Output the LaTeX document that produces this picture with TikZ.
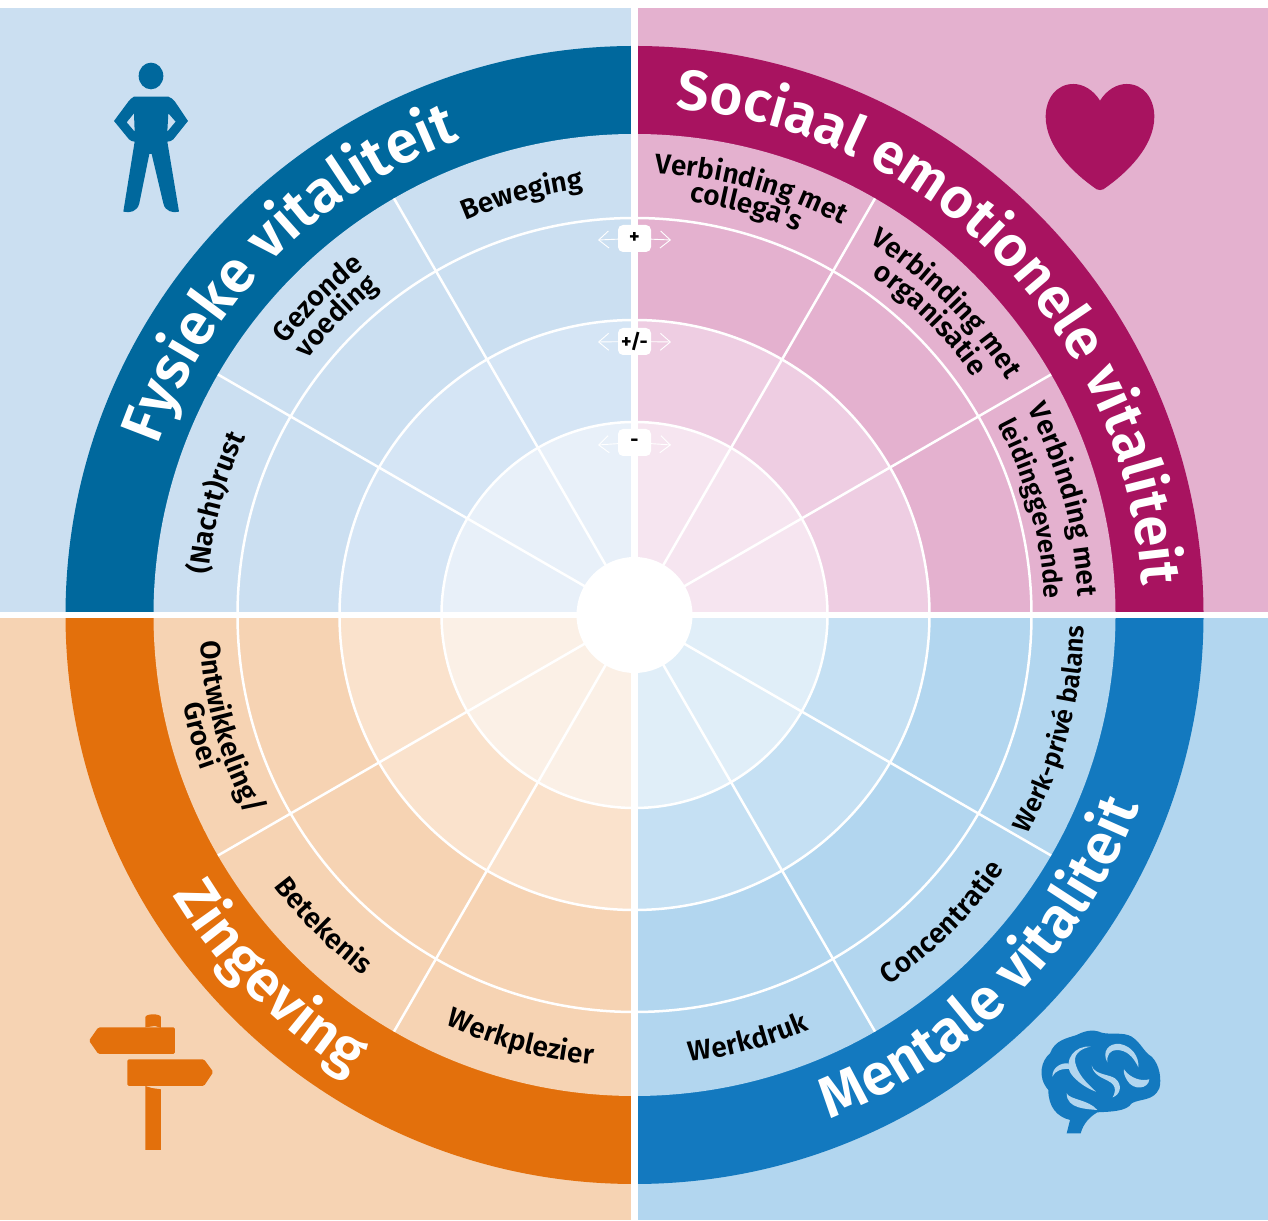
\documentclass[tikz,border=0pt]{standalone}
\usepackage{fontspec}
\setmainfont{Fira Sans}
\newfontfamily\labfam{Fira Sans}[UprightFont=* SemiBold]
\usetikzlibrary{decorations.text,arrows.meta}
\definecolor{bluebg}{HTML}{CBDFF1}\definecolor{bluemid}{HTML}{D5E5F5}\definecolor{blueinn}{HTML}{E8F0F9}\definecolor{blueband}{HTML}{00689D}
\definecolor{pinkbg}{HTML}{E4B1CF}\definecolor{pinkmid}{HTML}{EECDE2}\definecolor{pinkinn}{HTML}{F6E5F0}\definecolor{pinkband}{HTML}{A81360}
\definecolor{orabg}{HTML}{F6D3B3}\definecolor{oramid}{HTML}{FAE2CC}\definecolor{orainn}{HTML}{FBF0E6}\definecolor{oraband}{HTML}{E3700C}
\definecolor{skybg}{HTML}{B2D6EF}\definecolor{skymid}{HTML}{C5E0F3}\definecolor{skyinn}{HTML}{E0EEF8}\definecolor{skyband}{HTML}{1379BF}
\newcommand{\bandf}[1]{\fontsize{#1}{62}\labfam\selectfont\color{white}}
\newcommand{\labf}{\fontsize{28}{30}\labfam\selectfont}
\newcommand{\labs}{\fontsize{26}{30}\labfam\selectfont}
% clockwise text (tops pointing outward)
\newcommand{\cwtext}[4]{\path[decorate,decoration={text along path,text align=center,text={|#3|#4}}] (C) ++(#1+70:#2) arc[start angle=#1+70,end angle=#1-70,radius=#2];}
% counter-clockwise text (tops pointing to the centre)
\newcommand{\ccwtext}[4]{\path[decorate,decoration={text along path,text align=center,text={|#3|#4}}] (C) ++(#1-70:#2) arc[start angle=#1-70,end angle=#1+70,radius=#2];}
\newcommand{\quadrant}[8]{% x1,y1,x2,y2,bg,band,mid,inner
 \begin{scope}
 \clip (#1,#2) rectangle (#3,#4);
 \fill[#5] (#1,#2) rectangle (#3,#4);
 \fill[#6] (C) circle[radius=569];
 \fill[#5] (C) circle[radius=481];
 \fill[#7] (C) circle[radius=295];
 \fill[#8] (C) circle[radius=193];
 \end{scope}}
\tikzset{
 x=1pt,y=1pt,
 ringline/.style={draw=white,line width=2.5pt},
 badge/.style={fill=white,rounded corners=5pt,minimum width=33pt,minimum height=27pt,inner sep=0pt,font=\fontsize{20}{22}\bfseries\selectfont},
 tick/.style={draw=white,line width=0.9pt,-{Straight Barb[length=10pt,width=17pt,line width=0.9pt]}},
 icon/.style={shift={(#1)},xscale=0.3333,yscale=-0.3333},
}
\begin{document}
\begin{tikzpicture}
\useasboundingbox (0,0) rectangle (1268,1220);
\fill[white] (0,0) rectangle (1268,1220);
\coordinate (C) at (634.5,605);
\quadrant{0}{608}{631}{1212}{bluebg}{blueband}{bluemid}{blueinn}
\quadrant{638}{608}{1268}{1212}{pinkbg}{pinkband}{pinkmid}{pinkinn}
\quadrant{0}{0}{631}{602}{orabg}{oraband}{oramid}{orainn}
\quadrant{638}{0}{1268}{602}{skybg}{skyband}{skymid}{skyinn}
% rings and sector lines
\foreach \r in {193,295,397}{\draw[ringline] (C) circle[radius=\r];}
\foreach \a in {30,60,120,150,210,240,300,330}{\draw[ringline] (C) -- ++(\a:481);}
% dividers
\fill[white] (631,0) rectangle (638,1220);
\fill[white] (0,602) rectangle (1268,608);
\fill[white] (C) circle[radius=58];
% badges
\coordinate (bpl) at (598,980);\coordinate (bpr) at (671,980);
\coordinate (bml) at (598,878);\coordinate (bmr) at (671,878);
\coordinate (bnl) at (598,775);\coordinate (bnr) at (671,775);
\coordinate (bpc) at (634.5,981.5);\coordinate (bmc) at (634.5,878.5);\coordinate (bnc) at (634.5,777.5);
\foreach \n/\s in {bpc/bpl,bpc/bpr,bmc/bml,bmc/bmr,bnc/bnl,bnc/bnr}{\draw[tick] (\n) -- (\s);}
\node[badge] (bp) at (bpc) {+};\node[badge] (bm) at (bmc) {+/-};\node[badge] (bn) at (bnc) {-};
% band titles
\cwtext{135.3}{506}{\bandf{59}}{Fysieke vitaliteit}
\cwtext{44.3}{508}{\bandf{56.5}}{Sociaal emotionele vitaliteit}
\ccwtext{-44.8}{540}{\bandf{58}}{Mentale vitaliteit}
\ccwtext{224.8}{540}{\bandf{58}}{Zingeving}
% segment labels
\cwtext{165}{428}{\labf}{(Nacht)rust}
\cwtext{135}{441}{\labf}{Gezonde}
\cwtext{135}{415}{\labf}{voeding}
\cwtext{105}{429}{\labf}{Beweging}
\cwtext{74.7}{442}{\labf}{Verbinding met}
\cwtext{74.7}{417}{\labf}{collega's}
\cwtext{45}{440}{\labf}{Verbinding met}
\cwtext{45}{414}{\labf}{organisatie}
\cwtext{15}{444}{\labf}{Verbinding met}
\cwtext{15}{410}{\labs}{leidinggevende}
\ccwtext{-15.3}{450}{\labs}{Werk-privé balans}
\ccwtext{-45}{449}{\labf}{Concentratie}
\ccwtext{-75}{450}{\labf}{Werkdruk}
\ccwtext{195.5}{435}{\labf}{Ontwikkeling/}
\ccwtext{195.5}{460}{\labf}{Groei}
\ccwtext{225}{451}{\labf}{Betekenis}
\ccwtext{255}{451}{\labf}{Werkplezier}
% person
\begin{scope}[icon={60,1180}]
\fill[blueband] (273,108) ellipse[x radius=37,y radius=40];
\fill[blueband,even odd rule] (222,170) -- (325,170) .. controls (335,172) and (340,180) .. (345,185) -- (384,243) -- (340,298) .. controls (335,303) and (328,305) .. (322,305) -- (357,515) .. controls (340,520) and (315,515) .. (310,490) -- (275,342) -- (268,342) -- (238,490) .. controls (232,515) and (210,520) .. (190,515) -- (224,305) .. controls (218,305) and (212,303) .. (207,298) -- (162,243) -- (205,185) .. controls (210,180) and (215,172) .. (222,170) -- cycle
 (222,220) -- (200,247) -- (224,275) -- cycle (325,220) -- (347,245) -- (322,275) -- cycle;
\end{scope}
% heart
\begin{scope}[icon={1030,1150}]
\fill[pinkband] (210,92) .. controls (190,60) and (160,42) .. (130,42) .. controls (80,42) and (47,85) .. (47,140) .. controls (47,230) and (130,310) .. (200,358) .. controls (205,361) and (215,361) .. (220,358) .. controls (290,310) and (373,230) .. (373,140) .. controls (373,85) and (340,42) .. (290,42) .. controls (260,42) and (230,60) .. (210,92) -- cycle;
\end{scope}
% signpost
\begin{scope}[icon={70,220}]
\fill[oraband] (226,82) -- (226,52) .. controls (226,40) and (273,40) .. (273,52) -- (273,84) -- (255,78) -- cycle;
\fill[oraband,rounded corners=1.5pt] (85,82) -- (315,82) -- (315,162) -- (85,162) -- (57,122) -- cycle;
\fill[oraband,rounded corners=1.5pt] (172,178) -- (402,178) -- (430,216) -- (402,258) -- (172,258) -- cycle;
\fill[oraband] (226,258) -- (245,264) -- (273,268) -- (273,450) -- (226,450) -- cycle;
\end{scope}
% brain
\begin{scope}[icon={1020,210}]
\fill[skyband] (182,370) .. controls (190,340) and (210,320) .. (232,307) .. controls (270,305) and (320,305) .. (335,280) .. controls (360,265) and (400,275) .. (418,235) .. controls (425,210) and (420,165) .. (395,140) .. controls (370,125) and (365,100) .. (335,80) .. controls (310,65) and (270,75) .. (245,68) .. controls (215,55) and (190,65) .. (170,75) .. controls (140,85) and (105,90) .. (90,130) .. controls (65,150) and (50,200) .. (85,240) .. controls (85,290) and (110,320) .. (150,330) -- (140,370) -- cycle;
\fill[skybg] (212,110) .. controls (165,105) and (130,150) .. (152,190) .. controls (170,215) and (200,235) .. (228,245) .. controls (195,215) and (172,190) .. (165,155) .. controls (162,130) and (185,115) .. (212,110) -- cycle;
\fill[skybg] (97,200) .. controls (97,170) and (125,158) .. (145,160) -- (152,177) .. controls (125,175) and (105,182) .. (97,200) -- cycle;
\fill[skybg] (215,167) .. controls (222,205) and (265,205) .. (280,225) .. controls (288,235) and (285,250) .. (278,262) .. controls (300,255) and (310,225) .. (285,205) .. controls (265,192) and (225,195) .. (215,167) -- cycle;
\fill[skybg] (262,157) .. controls (245,125) and (265,98) .. (300,102) .. controls (335,108) and (358,140) .. (355,172) .. controls (340,140) and (320,120) .. (290,120) .. controls (270,120) and (260,135) .. (262,157) -- cycle;
\fill[skybg] (312,178) .. controls (330,205) and (365,215) .. (388,208) .. controls (385,238) and (340,242) .. (322,212) .. controls (315,200) and (310,190) .. (312,178) -- cycle;
\fill[skybg] (140,250) .. controls (150,270) and (205,268) .. (232,300) .. controls (200,297) and (140,297) .. (140,250) -- cycle;
\end{scope}
\end{tikzpicture}
\end{document}
